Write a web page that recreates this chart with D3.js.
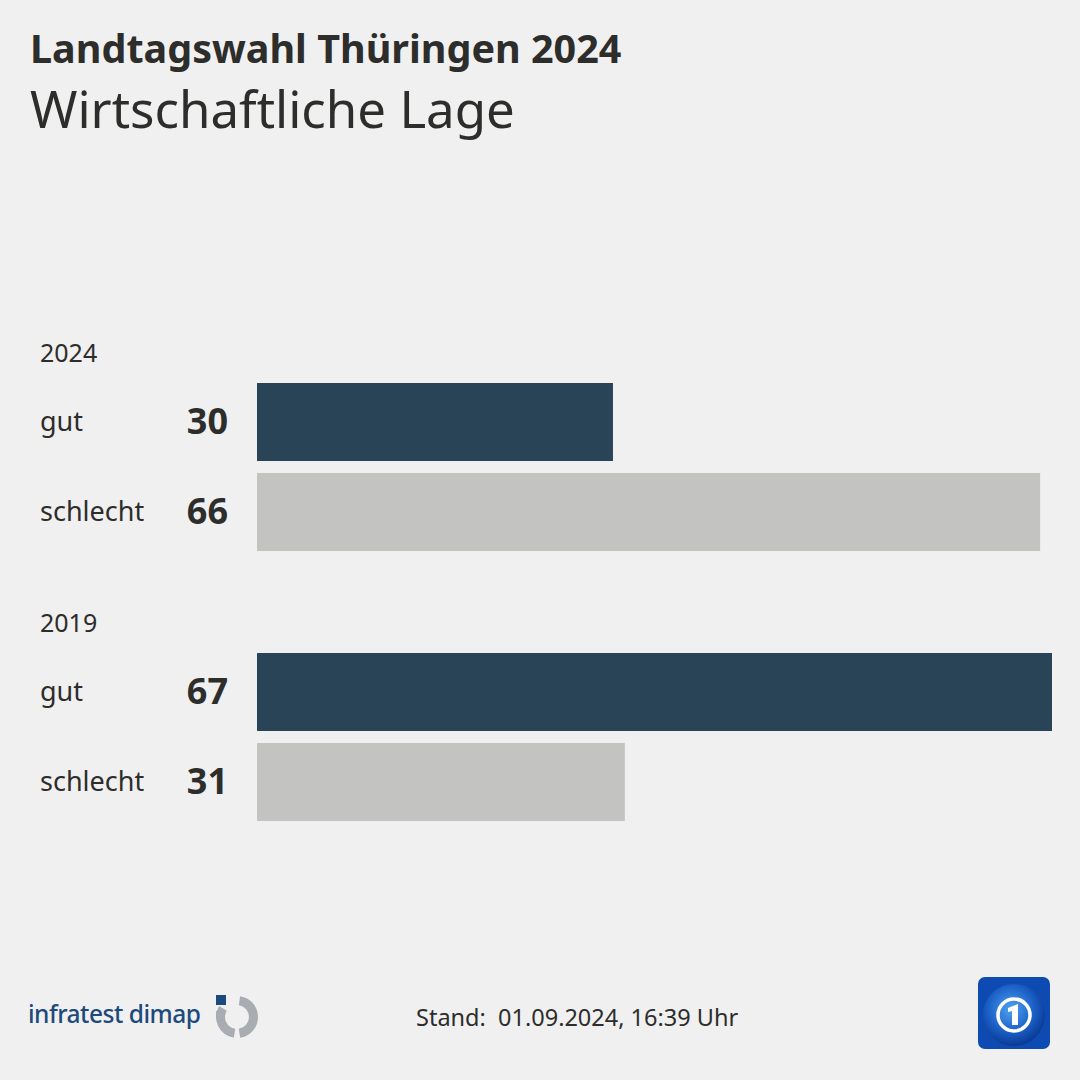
<!DOCTYPE html>
<html><head><meta charset="utf-8">
<script src="https://cdn.jsdelivr.net/npm/d3@7"></script>
<style>
html,body{margin:0;padding:0;background:#f0f0f0;}
svg{display:block;font-family:"Noto Sans","Open Sans",sans-serif;}
</style></head>
<body>
<svg id="c" width="1080" height="1080"></svg>
<script>
const title = "Landtagswahl Thüringen 2024";
const subtitle = "Wirtschaftliche Lage";
const groups = ["2024", "2019"];
const categories = ["gut", "schlecht"];
const values2024 = [30, 66];
const values2019 = [67, 31];
const seriesValues = [values2024, values2019];
const footerText = "Stand:  01.09.2024, 16:39 Uhr";

const svg = d3.select("#c");
svg.append("rect").attr("width",1080).attr("height",1080).attr("fill","#f0f0f0");

const textCol = "#2d2d2b";
svg.append("text").attr("x",30).attr("y",63).attr("fill",textCol)
  .attr("font-size",39.5).attr("font-weight",700).text(title);
svg.append("text").attr("x",30).attr("y",128).attr("fill",textCol)
  .attr("font-size",51).attr("font-weight",400).text(subtitle);

const x = d3.scaleLinear().domain([0,67]).range([257,1052]);
const colors = {gut:"#2a4457", schlecht:"#c3c3c2"};
const groupTop = d3.scalePoint().domain(groups).range([383,653]);
const y = d3.scaleBand().domain(categories).range([0,168]).paddingInner(12/90).paddingOuter(0);

groups.forEach((g,gi)=>{
  const gEl = svg.append("g").attr("transform",`translate(0,${groupTop(g)})`);
  gEl.append("text").attr("x",40).attr("y",-21).attr("fill",textCol)
    .attr("font-size",25).text(g);
  categories.forEach((c,ci)=>{
    const v = seriesValues[gi][ci];
    const yy = y(c);
    gEl.append("rect").attr("x",x(0)).attr("y",yy)
      .attr("width",x(v)-x(0)).attr("height",y.bandwidth()).attr("fill",colors[c]);
    gEl.append("text").attr("x",40).attr("y",yy+y.bandwidth()/2+9).attr("fill",textCol)
      .attr("font-size",27).text(c);
    gEl.append("text").attr("x",228).attr("y",yy+y.bandwidth()/2+12).attr("fill",textCol)
      .attr("font-size",36).attr("font-weight",700).attr("text-anchor","end").text(v);
  });
});

// footer
svg.append("text").attr("x",416).attr("y",1026).attr("fill",textCol)
  .attr("font-size",23.5).style("white-space","pre").text(footerText);

// infratest dimap logo
svg.append("text").attr("x",28).attr("y",1023).attr("fill","#1d4a7c")
  .attr("font-size",24.5).attr("font-weight",500).attr("letter-spacing",-0.5).text("infratest dimap");
svg.append("rect").attr("x",216).attr("y",995).attr("width",10).attr("height",10).attr("fill","#1d4a7c");
const arc = d3.arc();
const lg = svg.append("g").attr("transform","translate(237,1017)");
lg.append("path").attr("fill","#a9adb2").attr("d",arc({innerRadius:12,outerRadius:21,startAngle:0.15,endAngle:Math.PI-0.15}));
lg.append("path").attr("fill","#a9adb2").attr("d",arc({innerRadius:12,outerRadius:21,startAngle:Math.PI+0.15,endAngle:Math.PI*1.5+0.55}));
lg.append("rect").attr("x",-21).attr("y",-6).attr("width",9).attr("height",8).attr("fill","#a9adb2");

// ARD tagesschau-like logo
const ard = svg.append("g").attr("transform","translate(978,977)");
const grad = svg.append("defs").append("radialGradient").attr("id","glb").attr("cx","45%").attr("cy","40%").attr("r","60%");
grad.append("stop").attr("offset","0%").attr("stop-color","#4fa3ef");
grad.append("stop").attr("offset","60%").attr("stop-color","#1c62c8");
grad.append("stop").attr("offset","100%").attr("stop-color","#0a3a95");
ard.append("rect").attr("width",72).attr("height",72).attr("rx",7).attr("fill","#0d4bb3");
ard.append("circle").attr("cx",36).attr("cy",38).attr("r",31).attr("fill","url(#glb)");
ard.append("circle").attr("cx",36).attr("cy",38).attr("r",16).attr("fill","none").attr("stroke","#fff").attr("stroke-width",3.5);
ard.append("path").attr("d","M30,31 L40,27 L40,48 L34,48 L34,34 L30,35 Z").attr("fill","#fff");
</script>
</body></html>
